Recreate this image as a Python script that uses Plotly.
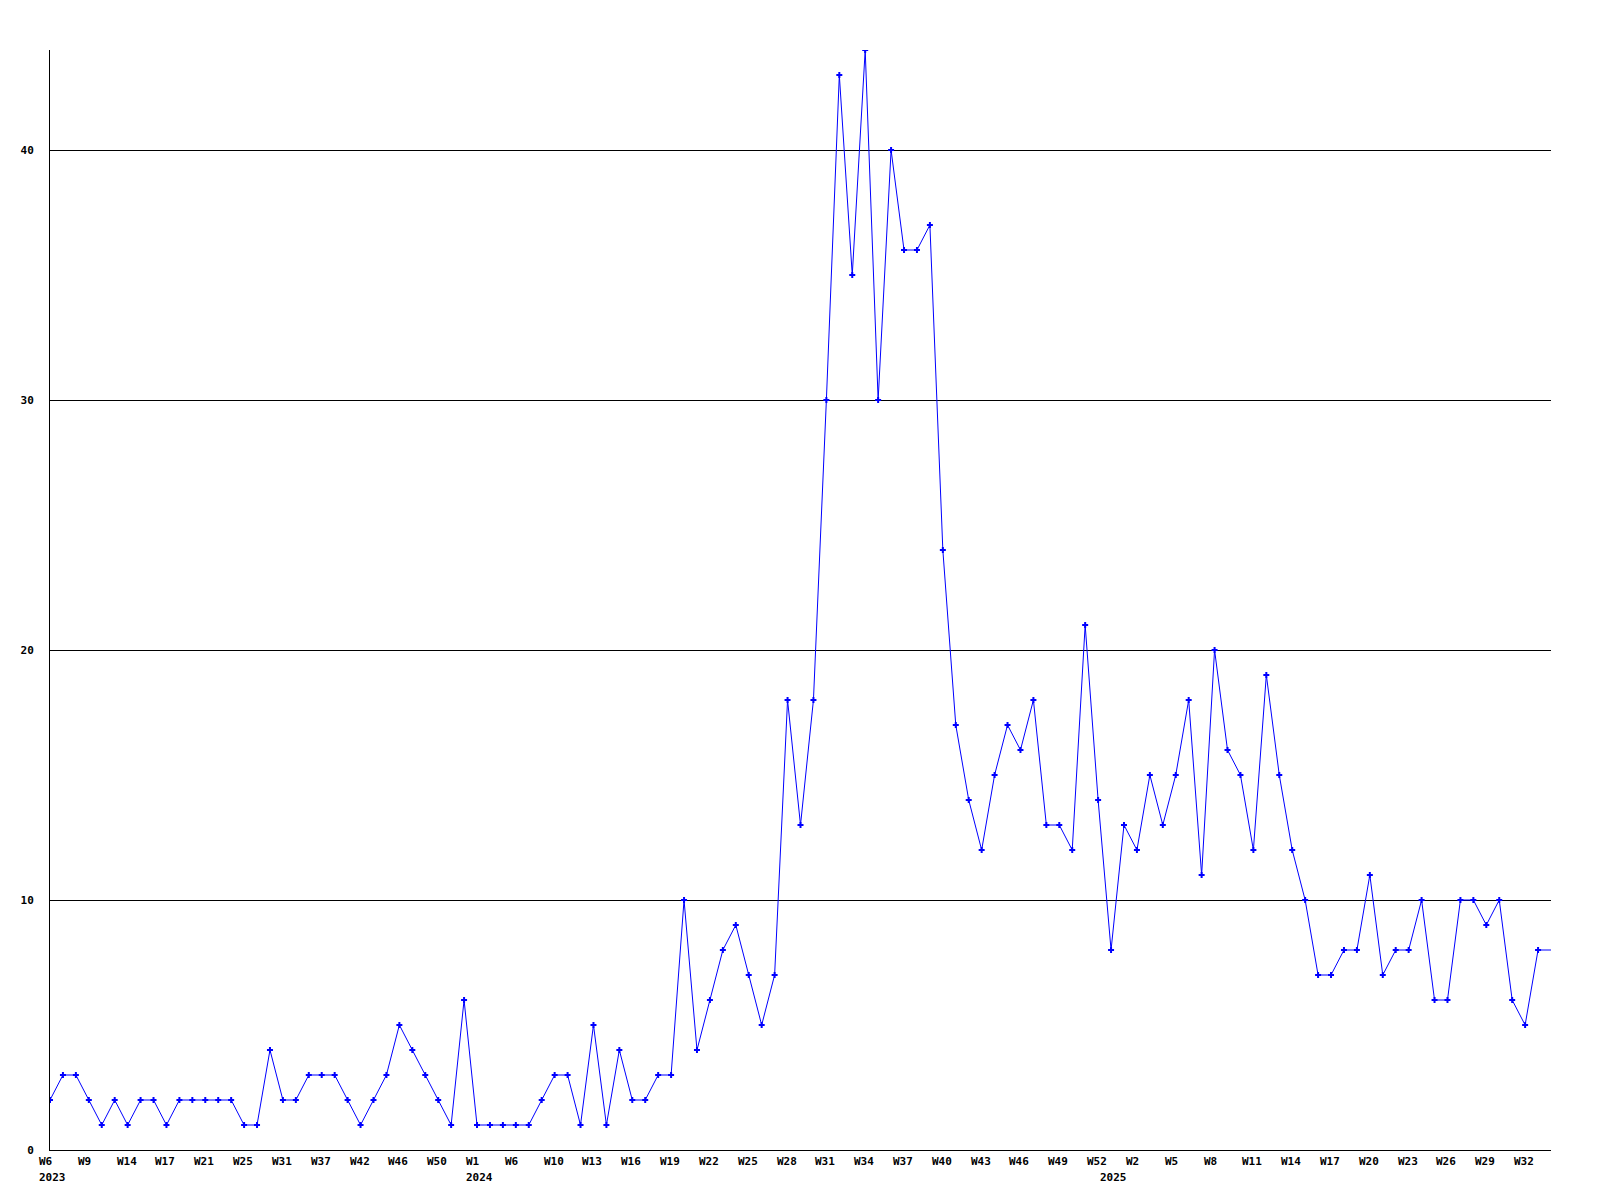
import plotly.graph_objects as go

# ---- data ----
weeks_2023 = [6, 7, 8, 9, 11, 12, 14, 15, 16, 17, 18, 20, 21, 22, 24, 25, 27, 29, 31, 33,
              35, 37, 39, 40, 42, 43, 44, 46, 47, 48, 50, 51, 52]
values_2023 = [2, 3, 3, 2, 1, 2, 1, 2, 2, 1, 2, 2, 2, 2, 2, 1, 1, 4, 2, 2,
               3, 3, 3, 2, 1, 2, 3, 5, 4, 3, 2, 1, 6]

weeks_2024 = [1, 3, 4, 6, 7, 8] + list(range(10, 53))
values_2024 = [1, 1, 1, 1, 1, 2, 3, 3, 1, 5, 1, 4, 2, 2, 3, 3, 10, 4, 6, 8,
               9, 7, 5, 7, 18, 13, 18, 30, 43, 35, 44, 30, 40, 36, 36, 37, 24, 17, 14, 12,
               15, 17, 16, 18, 13, 13, 12, 21, 14]

weeks_2025 = list(range(0, 35))
values_2025 = [8, 13, 12, 15, 13, 15, 18, 11, 20, 16, 15, 12, 19, 15, 12, 10, 7, 7, 8, 8,
               11, 7, 8, 8, 10, 6, 6, 10, 10, 9, 10, 6, 5, 8, 8]

years = [2023, 2024, 2025]
y_ticks = [0, 10, 20, 30, 40]

# ---- build categories ----
cats, week_text, vals, year_start = [], [], [], []
for yr, wks, vs in zip(years, [weeks_2023, weeks_2024, weeks_2025],
                       [values_2023, values_2024, values_2025]):
    year_start.append(len(cats))
    for w, v in zip(wks, vs):
        cats.append(f"{yr}-W{w}")
        week_text.append(f"W{w}")
        vals.append(v)

n_marked = len(cats) - 1  # last value is the open (unmarked) week at the edge

BLUE = "rgb(0,0,255)"
FONT = dict(family="DejaVu Sans Mono", size=11, color="black", weight="bold")

fig = go.Figure()
fig.add_trace(go.Scatter(x=cats, y=vals, mode="lines",
                         line=dict(color=BLUE, width=1), hoverinfo="skip",
                         showlegend=False))
fig.add_trace(go.Scatter(x=cats[:n_marked], y=vals[:n_marked], mode="markers",
                         marker=dict(symbol="cross", size=5, color=BLUE,
                                     line=dict(width=0)),
                         showlegend=False))

annotations = []
for i in range(0, n_marked, 3):
    annotations.append(dict(x=cats[i], y=0, xref="x", yref="paper", text=week_text[i],
                            showarrow=False, xanchor="left", yanchor="middle",
                            xshift=-13, yshift=-11.5, font=FONT))
for yr, i in zip(years, year_start):
    annotations.append(dict(x=cats[i], y=0, xref="x", yref="paper", text=str(yr),
                            showarrow=False, xanchor="left", yanchor="middle",
                            xshift=-13, yshift=-27.5, font=FONT))

fig.update_layout(
    width=1600, height=1200,
    margin=dict(l=50, r=49, t=50, b=50),
    paper_bgcolor="white", plot_bgcolor="white",
    annotations=annotations,
    xaxis=dict(type="category", categoryorder="array", categoryarray=cats,
               range=[0, len(cats) - 1], showgrid=False, zeroline=False,
               showline=True, linecolor="black", linewidth=1,
               showticklabels=False, ticks=""),
    yaxis=dict(range=[0, 44], tickvals=y_ticks, ticktext=[str(t) for t in y_ticks],
               showgrid=True, gridcolor="black", gridwidth=1, zeroline=False,
               showline=True, linecolor="black", linewidth=1,
               ticks="", ticklabelstandoff=13, tickfont=FONT),
)

fig.write_html("out.html", config={"displayModeBar": False},
               post_script="document.body.style.margin='0';")
